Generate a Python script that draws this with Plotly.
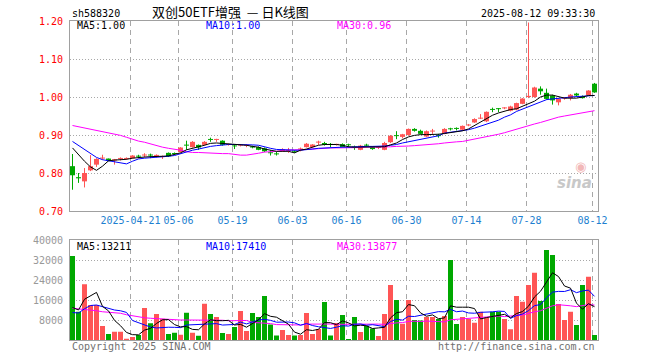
import plotly.graph_objects as go
import pandas as pd

# ---------------- data ----------------
holidays = ["2025-05-01", "2025-05-02", "2025-05-05", "2025-06-02"]
dates = [d.strftime("%Y-%m-%d") for d in pd.bdate_range("2025-04-07", "2025-08-12")
         if d.strftime("%Y-%m-%d") not in holidays]

open_ = [0.818, 0.789, 0.778, 0.807, 0.822, 0.838, 0.838, 0.833, 0.837, 0.837,
         0.839, 0.845, 0.846, 0.847, 0.845, 0.842, 0.853, 0.852, 0.855, 0.874,
         0.868, 0.874, 0.874, 0.889, 0.887, 0.885, 0.874, 0.872, 0.872, 0.872,
         0.870, 0.868, 0.865, 0.854, 0.851, 0.857, 0.858, 0.858, 0.862, 0.868,
         0.868, 0.880, 0.879, 0.875, 0.874, 0.876, 0.875, 0.868, 0.861, 0.874,
         0.868, 0.866, 0.861, 0.881, 0.899, 0.895, 0.900, 0.916, 0.911, 0.896,
         0.909, 0.899, 0.903, 0.917, 0.918, 0.914, 0.925, 0.933, 0.943, 0.936,
         0.968, 0.970, 0.970, 0.964, 0.967, 0.982, 1.000, 1.000, 1.022, 1.011,
         1.004, 0.986, 0.996, 0.997, 1.009, 1.002, 1.005, 1.035]
high = [0.850, 0.800, 0.813, 0.847, 0.839, 0.848, 0.838, 0.837, 0.841, 0.841,
        0.847, 0.848, 0.852, 0.851, 0.849, 0.846, 0.854, 0.854, 0.868, 0.885,
        0.884, 0.875, 0.884, 0.893, 0.890, 0.886, 0.877, 0.875, 0.875, 0.875,
        0.872, 0.870, 0.867, 0.860, 0.856, 0.865, 0.866, 0.860, 0.867, 0.879,
        0.876, 0.885, 0.882, 0.879, 0.877, 0.878, 0.877, 0.872, 0.874, 0.877,
        0.870, 0.869, 0.882, 0.900, 0.910, 0.903, 0.917, 0.918, 0.914, 0.912,
        0.916, 0.903, 0.918, 0.919, 0.920, 0.925, 0.929, 0.944, 0.955, 0.962,
        0.972, 0.971, 0.973, 0.977, 0.985, 0.997, 1.196, 1.027, 1.028, 1.022,
        1.006, 0.996, 1.000, 1.008, 1.011, 1.004, 1.018, 1.037]
low = [0.756, 0.774, 0.762, 0.805, 0.816, 0.835, 0.831, 0.822, 0.833, 0.835,
       0.838, 0.839, 0.841, 0.839, 0.841, 0.837, 0.842, 0.848, 0.854, 0.861,
       0.867, 0.861, 0.872, 0.882, 0.882, 0.872, 0.872, 0.863, 0.870, 0.868,
       0.865, 0.860, 0.855, 0.846, 0.846, 0.856, 0.853, 0.853, 0.857, 0.867,
       0.867, 0.874, 0.872, 0.868, 0.872, 0.867, 0.868, 0.861, 0.860, 0.868,
       0.861, 0.863, 0.860, 0.879, 0.889, 0.891, 0.898, 0.909, 0.902, 0.895,
       0.903, 0.893, 0.902, 0.912, 0.912, 0.912, 0.923, 0.932, 0.942, 0.934,
       0.960, 0.960, 0.968, 0.962, 0.965, 0.981, 0.997, 0.998, 1.006, 0.993,
       0.980, 0.978, 0.993, 0.991, 1.002, 0.996, 1.004, 1.011]
close = [0.794, 0.786, 0.800, 0.818, 0.837, 0.839, 0.832, 0.836, 0.839, 0.839,
         0.846, 0.843, 0.848, 0.846, 0.846, 0.844, 0.844, 0.850, 0.867, 0.872,
         0.882, 0.867, 0.882, 0.887, 0.889, 0.874, 0.875, 0.870, 0.874, 0.874,
         0.867, 0.861, 0.857, 0.852, 0.849, 0.863, 0.860, 0.856, 0.864, 0.877,
         0.875, 0.882, 0.874, 0.874, 0.875, 0.868, 0.873, 0.867, 0.872, 0.872,
         0.863, 0.868, 0.879, 0.898, 0.897, 0.902, 0.916, 0.911, 0.903, 0.910,
         0.911, 0.897, 0.916, 0.915, 0.916, 0.924, 0.926, 0.942, 0.945, 0.961,
         0.966, 0.968, 0.972, 0.975, 0.984, 0.996, 1.003, 1.025, 1.015, 0.995,
         0.991, 0.995, 0.998, 1.006, 1.004, 0.997, 1.017, 1.012]
volume = [33600, 11300, 22300, 14000, 14000, 5600, 2400, 3300, 3300, 500,
          1200, 2000, 12800, 6700, 10400, 8500, 2400, 2900, 2100, 10900,
          2900, 1700, 14500, 10400, 9200, 2800, 2400, 5200, 11600, 3600,
          10800, 9200, 17600, 6200, 1800, 4000, 2000, 1800, 2000, 10800,
          2400, 4400, 15200, 1800, 6800, 10000, 400, 9200, 3200, 5600,
          4600, 1600, 10400, 22000, 16000, 6500, 16000, 8000, 7800, 9200,
          9200, 8400, 9600, 32000, 6400, 9200, 8400, 6900, 11300, 9100,
          11300, 11300, 8400, 4300, 17600, 15300, 22000, 26900, 15600, 36000,
          34000, 14400, 8000, 11300, 6000, 22000, 25300, 2000]

ma5 = [0.866, 0.848, 0.831, 0.816, 0.807, 0.818, 0.832, 0.834, 0.835, 0.836,
       0.839, 0.841, 0.842, 0.843, 0.843, 0.844, 0.845, 0.848, 0.853, 0.861,
       0.866, 0.869, 0.873, 0.878, 0.879, 0.878, 0.876, 0.875, 0.874, 0.873,
       0.870, 0.868, 0.863, 0.860, 0.857, 0.857, 0.857, 0.853, 0.860, 0.863,
       0.868, 0.873, 0.875, 0.875, 0.875, 0.873, 0.869, 0.868, 0.868, 0.868,
       0.868, 0.868, 0.869, 0.874, 0.879, 0.888, 0.895, 0.899, 0.901, 0.901,
       0.901, 0.902, 0.904, 0.906, 0.908, 0.911, 0.916, 0.925, 0.933, 0.943,
       0.952, 0.958, 0.963, 0.967, 0.969, 0.975, 0.982, 0.989, 1.000, 1.005,
       1.005, 1.002, 0.997, 0.997, 0.997, 1.000, 1.004, 1.004]
ma10 = [0.883, 0.872, 0.861, 0.851, 0.841, 0.835, 0.832, 0.828, 0.825, 0.824,
        0.831, 0.837, 0.839, 0.840, 0.842, 0.843, 0.844, 0.846, 0.851, 0.856,
        0.860, 0.863, 0.867, 0.870, 0.872, 0.874, 0.875, 0.875, 0.875, 0.875,
        0.874, 0.873, 0.868, 0.865, 0.862, 0.861, 0.860, 0.860, 0.860, 0.861,
        0.863, 0.865, 0.866, 0.867, 0.868, 0.868, 0.868, 0.869, 0.869, 0.870,
        0.870, 0.870, 0.871, 0.873, 0.875, 0.879, 0.882, 0.885, 0.888, 0.891,
        0.896, 0.898, 0.905, 0.907, 0.910, 0.911, 0.914, 0.918, 0.923, 0.927,
        0.933, 0.939, 0.947, 0.953, 0.962, 0.968, 0.975, 0.982, 0.988, 0.993,
        0.995, 0.996, 0.998, 1.000, 1.001, 1.002, 1.003, 1.004]
ma30 = [0.925, 0.922, 0.918, 0.915, 0.911, 0.909, 0.906, 0.903, 0.899, 0.894,
        0.888, 0.884, 0.881, 0.876, 0.872, 0.868, 0.865, 0.863, 0.860, 0.856,
        0.854, 0.854, 0.853, 0.852, 0.852, 0.851, 0.851, 0.849, 0.847, 0.847,
        0.849, 0.852, 0.855, 0.856, 0.857, 0.860, 0.861, 0.861, 0.861, 0.862,
        0.864, 0.865, 0.865, 0.866, 0.866, 0.866, 0.866, 0.866, 0.867, 0.868,
        0.868, 0.868, 0.868, 0.869, 0.870, 0.870, 0.871, 0.872, 0.873, 0.874,
        0.875, 0.877, 0.879, 0.881, 0.882, 0.883, 0.886, 0.889, 0.891, 0.894,
        0.898, 0.902, 0.906, 0.911, 0.915, 0.919, 0.924, 0.929, 0.933, 0.938,
        0.943, 0.947, 0.950, 0.953, 0.956, 0.959, 0.962, 0.964]

vol_ma5_head = [13000, 12000, 16300, 17800]
vol_ma10_head = [11000, 10800, 12500, 13800, 14000, 13300, 12600, 12000, 11700]
vol_ma30_head = [12700, 12500, 12300, 12000, 11700, 11300, 11100, 10900, 10700, 10100,
                 9600, 9200, 8900, 8700, 8500, 8400, 8300, 8100, 8000, 8000,
                 8000, 8100, 8100, 8000, 8000, 7900, 7700, 7700, 7600]

tick_dates = ["2025-04-21", "2025-05-06", "2025-05-19", "2025-06-03", "2025-06-16",
              "2025-06-30", "2025-07-14", "2025-07-28", "2025-08-12"]
tick_labels = ["2025-04-21", "05-06", "05-19", "06-03", "06-16",
               "06-30", "07-14", "07-28", "08-12"]
price_ticks = [0.70, 0.80, 0.90, 1.00, 1.10, 1.20]
vol_ticks = [8000, 16000, 24000, 32000, 40000]

legend_price = {"MA5": "1.00", "MA10": "1.00", "MA30": "0.96"}
legend_vol = {"MA5": "13211", "MA10": "17410", "MA30": "13877"}

# ---------------- derived ----------------
n = len(dates)
xs = list(range(n))
vol_s = pd.Series(volume, dtype=float)
vma5 = vol_s.rolling(5).mean().tolist()
vma10 = vol_s.rolling(10).mean().tolist()
vma30 = vol_s.rolling(30).mean().tolist()
vma5[:len(vol_ma5_head)] = vol_ma5_head
vma10[:len(vol_ma10_head)] = vol_ma10_head
vma30[:len(vol_ma30_head)] = vol_ma30_head

# ---------------- style ----------------
RED = "#FF5555"
GREEN = "#00A800"
GRID = "#A8A8A8"
FRAME = "#A0A0A0"
MONO = "DejaVu Sans Mono"
W, H = 660, 360
L, R, T, B = 70, 62, 21, 20
PW, PH = W - L - R, H - T - B
SLOT = 6.0          # px per trading day
FIRST_CENTER = 72.5  # px of first candle centre


def fx(p):
    return (p - L) / PW


def fy(p):
    return (H - B - p) / PH


up = [c >= o for o, c in zip(open_, close)]
colors = [RED if u else GREEN for u in up]
min_body = 1.0 / 380.0
body_base = [min(o, c) for o, c in zip(open_, close)]
body_h = [max(abs(c - o), min_body) for o, c in zip(open_, close)]

fig = go.Figure()

# wicks
for flag, col in ((True, RED), (False, GREEN)):
    wx, wy = [], []
    for i in xs:
        if up[i] == flag:
            wx += [i, i, None]
            wy += [low[i], high[i], None]
    fig.add_trace(go.Scatter(x=wx, y=wy, mode="lines", line=dict(color=col, width=1),
                             xaxis="x", yaxis="y", hoverinfo="skip"))

# bodies
fig.add_trace(go.Bar(x=xs, y=body_h, base=body_base, width=5 / SLOT,
                     marker=dict(color=colors, line=dict(width=0)),
                     xaxis="x", yaxis="y", hoverinfo="skip"))

# price MAs
for arr, col in ((ma30, "#FF00FF"), (ma10, "#0000FF"), (ma5, "#000000")):
    fig.add_trace(go.Scatter(x=xs, y=arr, mode="lines", line=dict(color=col, width=1),
                             xaxis="x", yaxis="y", hoverinfo="skip"))

# volume bars
fig.add_trace(go.Bar(x=xs, y=volume, width=5 / SLOT,
                     marker=dict(color=colors, line=dict(width=0)),
                     xaxis="x2", yaxis="y2", hoverinfo="skip"))
for arr, col in ((vma30, "#FF00FF"), (vma10, "#0000FF"), (vma5, "#000000")):
    fig.add_trace(go.Scatter(x=xs, y=arr, mode="lines", line=dict(color=col, width=1),
                             xaxis="x2", yaxis="y2", hoverinfo="skip"))

tick_idx = [dates.index(d) - 1.0 / 3.0 for d in tick_dates]
x_range = [(L - FIRST_CENTER) / SLOT, (L + PW - FIRST_CENTER) / SLOT]

common_x = dict(range=x_range, tickvals=tick_idx, showgrid=True, gridcolor=GRID,
                griddash="5px,4px", gridwidth=1, showline=True, mirror=True,
                linecolor=FRAME, linewidth=1, ticks="", zeroline=False, fixedrange=True)

annotations = []


def note(text, x, y, color="#000000", xanchor="left", size=10, family=MONO):
    annotations.append(dict(text=text, x=fx(x), y=fy(y), xref="paper", yref="paper",
                            xanchor=xanchor, yanchor="middle", showarrow=False,
                            font=dict(family=family, size=size, color=color)))


note("sh588320", 70, 13)
note("双创50ETF增强\u00a0\u00a0—\u00a0日K线图", 230, 12, xanchor="center", size=13,
     family="Noto Sans CJK SC")
note("2025-08-12 09:33:30", 597, 13, xanchor="right")
note("MA5:" + legend_price["MA5"], 75, 26)
note("MA10:" + legend_price["MA10"], 204, 26, color="#0000FF")
note("MA30:" + legend_price["MA30"], 335, 26, color="#FF00FF")
note("MA5:" + legend_vol["MA5"], 75, 246)
note("MA10:" + legend_vol["MA10"], 204, 246, color="#0000FF")
note("MA30:" + legend_vol["MA30"], 335, 246, color="#FF00FF")
note("Copyright 2025 SINA.COM", 70, 346, color="#707070")
note("http://finance.sina.com.cn", 597, 346, color="#707070", xanchor="right")
annotations.append(dict(text="sina", x=fx(594), y=fy(183), xref="paper", yref="paper",
                        xanchor="right", yanchor="middle", showarrow=False,
                        font=dict(family="DejaVu Sans", size=15, color="#C8C8C8",
                                  style="italic", weight="bold")))
annotations.append(dict(text="◉", x=fx(580), y=fy(167), xref="paper", yref="paper",
                        xanchor="center", yanchor="middle", showarrow=False,
                        font=dict(family="DejaVu Sans", size=13, color="#F2B8B8")))

fig.update_layout(
    width=W, height=H, margin=dict(l=L, r=R, t=T, b=B),
    paper_bgcolor="white", plot_bgcolor="white", showlegend=False,
    barmode="overlay", hovermode=False,
    xaxis=dict(domain=[0, 1], anchor="y", ticktext=tick_labels,
               tickfont=dict(family=MONO, size=10, color="#1E7FD0"), **common_x),
    xaxis2=dict(domain=[0, 1], anchor="y2", showticklabels=False, **common_x),
    yaxis=dict(domain=[fy(211), 1], range=[0.70, 1.20], tickvals=price_ticks,
               ticktext=["%.2f" % v for v in price_ticks],
               tickfont=dict(family=MONO, size=10, color="#FF0000"),
               showgrid=True, gridcolor=GRID, griddash="1px,2px", showline=True,
               mirror=True, linecolor=FRAME, ticks="", zeroline=False,
               ticklabelstandoff=4, fixedrange=True),
    yaxis2=dict(domain=[0, fy(240)], range=[0, 40000], tickvals=vol_ticks,
                ticktext=[str(v) for v in vol_ticks],
                tickfont=dict(family=MONO, size=10, color="#999999"),
                showgrid=True, gridcolor=GRID, griddash="1px,2px", showline=True,
                mirror=True, linecolor=FRAME, ticks="", zeroline=False,
                ticklabelstandoff=4, fixedrange=True),
    annotations=annotations,
)

fig.write_html("out.html", config={"displayModeBar": False, "staticPlot": True},
               post_script="document.body.style.margin='0';document.body.style.overflow='hidden';")
